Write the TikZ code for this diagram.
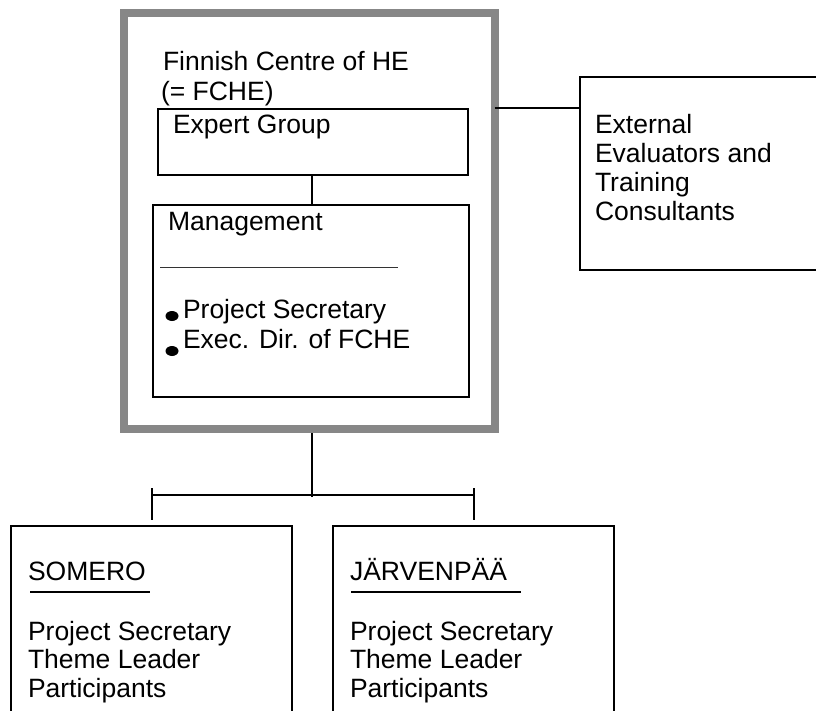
\documentclass[tikz,border=0pt]{standalone}
\usepackage{fontspec}
\setmainfont{Liberation Sans}
\usetikzlibrary{shapes.geometric}
\definecolor{boxgray}{RGB}{135,135,135}
\begin{document}
\begin{tikzpicture}[x=1pt,y=-1pt,
  box/.style={draw=black,line width=2pt,rectangle,inner sep=0pt,outer sep=0pt},
  txt/.style={anchor=base west,inner sep=0pt,outer sep=0pt,font=\fontsize{26.5}{29.5}\selectfont},
  link/.style={draw=black,line width=2pt},
  dot/.style={fill=black,ellipse,inner sep=0pt,minimum width=13pt,minimum height=10pt}]
\useasboundingbox (0,0) rectangle (816,710);
\clip (0,0) rectangle (816,710);
% outer grey box
\node[draw=boxgray,line width=8pt,rectangle,inner sep=0pt,outer sep=0pt,
  minimum width=370.5pt,minimum height=416pt] (outer) at (309.25,221) {};
\node[txt] (t1) at (163,70) {Finnish Centre of HE};
\node[txt] (t2) at (161,100) {(= FCHE)};
% expert group
\node[box,minimum width=310pt,minimum height=66pt] (expert) at (313,142) {};
\node[txt] (te) at (173,133) {Expert Group};
% management
\node[box,minimum width=316pt,minimum height=192pt] (mgmt) at (311,301) {};
\node[txt] (tm) at (168,230) {Management};
\draw[line width=1pt,black!80] (160,267) coordinate (ul1) -- (398,267) coordinate (ul2);
\node[dot] (b1) at (172,316) {};
\node[dot] (b2) at (172,351) {};
\node[txt] (tp) at (183,318) {Project Secretary};
\node[txt] (tx) at (183,348) {Exec. Dir. of FCHE};
\coordinate (eb) at (312,175);
\coordinate (mt) at (312,205);
\draw[link] (eb) -- (mt);
% external box
\node[box,minimum width=260pt,minimum height=193pt] (ext) at (710,173.5) {};
\node[txt] (x1) at (595,133) {External};
\node[txt] (x2) at (595,162) {Evaluators and};
\node[txt] (x3) at (595,191) {Training};
\node[txt] (x4) at (595,220) {Consultants};
\coordinate (cy) at (0,108);
\draw[link] (outer.east |- cy) -- (ext.west |- cy);
% bottom tree
\coordinate (ob) at (312,433);
\coordinate (bm) at (312,497);
\coordinate (bl) at (152,495);
\coordinate (br) at (474,495);
\coordinate (blt) at (152,488);
\coordinate (brt) at (474,488);
\node[box,minimum width=281pt,minimum height=260pt] (somero) at (151.5,656) {};
\node[box,minimum width=281pt,minimum height=260pt] (jarv) at (473.5,656) {};
\draw[link] (ob) -- (bm);
\draw[link] (bl) -- (br);
\draw[link] (blt) -- (blt |- 0,520);
\draw[link] (brt) -- (brt |- 0,520);
\node[txt] (s0) at (28,580) {SOMERO};
\draw[link] (30,592) -- (150,592);
\node[txt] (s1) at (28,640) {Project Secretary};
\node[txt] (s2) at (28,668) {Theme Leader};
\node[txt] (s3) at (28,697) {Participants};
\node[txt] (j0) at (350,580) {JÄRVENPÄÄ};
\draw[link] (351,592) -- (521,592);
\node[txt] (j1) at (350,640) {Project Secretary};
\node[txt] (j2) at (350,668) {Theme Leader};
\node[txt] (j3) at (350,697) {Participants};
\end{tikzpicture}
\end{document}
